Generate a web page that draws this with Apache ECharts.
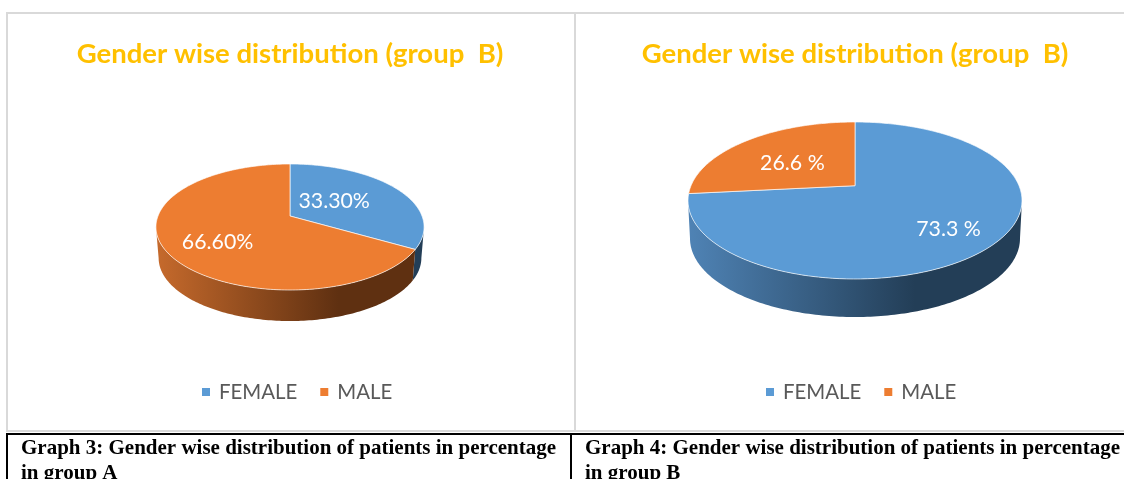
<!DOCTYPE html>
<html>
<head>
<meta charset="utf-8">
<style>html,body{margin:0;padding:0;background:#fff;overflow:hidden}#c{width:1124px;height:479px}</style>
<script src="https://cdn.jsdelivr.net/npm/echarts@6/dist/echarts.min.js"></script>
</head>
<body>
<div id="c"></div>
<script>
const categories = ['FEMALE', 'MALE'];
const groupAValues = [33.3, 66.6];
const groupBValues = [73.3, 26.6];
const groupALabels = ['33.30%', '66.60%'];
const groupBLabels = ['73.3 %', '26.6 %'];
const chartTitle = 'Gender wise distribution (group  B)';
const captionA = ['Graph 3: Gender wise distribution of patients in percentage', 'in group A'];
const captionB = ['Graph 4: Gender wise distribution of patients in percentage', 'in group B'];

const topColors = ['#5B9BD5', '#ED7D31'];
const wallLight = ['#4F83B5', '#C66A2C'];
const wallDark = ['#233E57', '#5F3011'];

const panelA = {cx:290, cy:216, k:132, a:61.08, c:-0.1746, depth:31, base:0.98, labelR:[0.4,0.6], labelDy:[-3,7]};
const panelB = {cx:855, cy:185.7, k:164, a:75.7, c:-0.1885, depth:38, base:0.988, labelR:[0.7,0.55], labelDy:[4,4]};

function project(p, deg, r) {
  const t = deg * Math.PI / 180, X = r * Math.sin(t), Y = -r * Math.cos(t), d = 1 + p.c * Y;
  return [p.cx + p.k * X / d, p.cy + p.a * Y / d];
}
function arc(p, from, to, r) {
  const n = Math.max(2, Math.ceil(Math.abs(to - from))), pts = [];
  for (let i = 0; i <= n; i++) pts.push(project(p, from + (to - from) * i / n, r));
  return pts;
}
function pieSeries(p, values, labels) {
  const total = values.reduce((s, v) => s + v, 0);
  const edge = Math.acos(p.c) * 180 / Math.PI;
  let running = 0;
  return values.map((v, idx) => {
    const start = running; running += v;
    return {
      type: 'custom', name: categories[idx], coordinateSystem: 'none', silent: true,
      animation: false, itemStyle: {color: topColors[idx]},
      data: [[start, v]],
      renderItem: function (params, api) {
        const a0 = api.value(0) / total * 360, a1 = (api.value(0) + api.value(1)) / total * 360;
        const children = [];
        // visible front wall only: between the right and left extremes of the rim
        const w0 = Math.max(a0, edge), w1 = Math.min(a1, 360 - edge);
        if (w1 > w0) {
          const upper = arc(p, w0, w1, 1);
          const lower = upper.map(q => [p.cx + (q[0] - p.cx) * p.base, q[1] + p.depth]).reverse();
          const l = project(p, 360 - edge, 1)[0], rr = project(p, edge, 1)[0];
          children.push({type: 'polygon', z2: 1, shape: {points: upper.concat(lower)}, style: {
            fill: new echarts.graphic.LinearGradient(l, 0, rr, 0, [
              {offset: 0, color: wallLight[idx]}, {offset: 0.68, color: wallDark[idx]}, {offset: 1, color: wallDark[idx]}
            ], true)
          }});
        }
        const pts = [[p.cx, p.cy]].concat(arc(p, a0, a1, 1));
        children.push({type: 'polygon', z2: 2, shape: {points: pts},
          style: {fill: topColors[idx], stroke: 'rgba(255,255,255,0.65)', lineWidth: 1}});
        const lp = project(p, (a0 + a1) / 2, p.labelR[idx]);
        children.push({type: 'text', z2: 3, x: lp[0], y: lp[1] + p.labelDy[idx], style: {
          text: labels[idx], fill: '#fff', font: '21.3px Lato', textAlign: 'center', textVerticalAlign: 'middle'}});
        return {type: 'group', children};
      }
    };
  });
}
const borderCol = '#D9D9D9';
function line(x1, y1, x2, y2, stroke, w) {
  return {type: 'line', silent: true, shape: {x1, y1, x2, y2}, style: {stroke, lineWidth: w}};
}
function caption(x, y, t) {
  return {type: 'text', silent: true, x, y, style: {text: t, fill: '#000', font: 'bold 21px "Liberation Serif"', textVerticalAlign: 'middle'}};
}
function legendAt(left) {
  return {left, top: 377, data: categories, icon: 'rect', itemWidth: 8, itemHeight: 8, itemGap: 23, selectedMode: false,
    textStyle: {color: '#595959', fontSize: 20.4, fontFamily: 'Lato', padding: [0, 0, 0, 4]}};
}
const chart = echarts.init(document.getElementById('c'), null, {renderer: 'canvas'});
chart.setOption({
  backgroundColor: '#fff',
  animation: false,
  title: [285, 850].map(x => ({text: chartTitle, left: x, top: 35, textAlign: 'center',
    textStyle: {color: '#FFC000', fontSize: 27.5, fontWeight: 'bold', fontFamily: 'Lato'}})),
  legend: [legendAt(197), legendAt(761)],
  series: pieSeries(panelA, groupAValues, groupALabels).concat(pieSeries(panelB, groupBValues, groupBLabels)),
  graphic: [
    line(6, 13, 1124, 13, borderCol, 2),
    line(7, 13, 7, 431, borderCol, 2),
    line(575, 13, 575, 431, borderCol, 2),
    line(6, 431, 1124, 431, borderCol, 2),
    line(6, 434, 1124, 434, '#000', 2),
    line(7, 434, 7, 479, '#000', 2),
    line(571, 434, 571, 479, '#000', 2),
    caption(21, 449, captionA[0]), caption(21, 474, captionA[1]),
    caption(585, 449, captionB[0]), caption(585, 474, captionB[1])
  ]
});
</script>
</body>
</html>
